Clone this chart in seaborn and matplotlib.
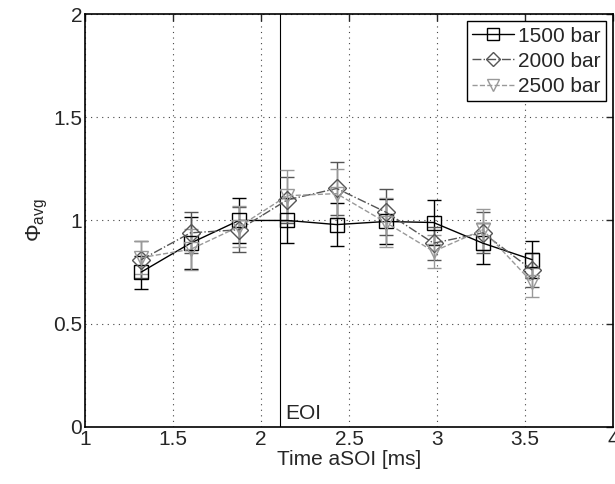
import numpy as np
import pandas as pd
import seaborn as sns
import matplotlib.pyplot as plt

# Data
time_ms = [1.32, 1.60, 1.875, 2.15, 2.43, 2.71, 2.98, 3.26, 3.54]
phi_1500 = [0.75, 0.89, 1.00, 1.00, 0.98, 0.995, 0.99, 0.89, 0.81]
err_1500 = [0.08, 0.125, 0.11, 0.11, 0.105, 0.11, 0.11, 0.10, 0.09]
phi_2000 = [0.81, 0.94, 0.955, 1.10, 1.155, 1.04, 0.89, 0.94, 0.76]
err_2000 = [0.09, 0.10, 0.11, 0.11, 0.13, 0.11, 0.08, 0.10, 0.08]
phi_2500 = [0.82, 0.86, 0.97, 1.12, 1.13, 0.99, 0.85, 0.955, 0.70]
err_2500 = [0.08, 0.10, 0.10, 0.125, 0.12, 0.12, 0.08, 0.10, 0.07]
eoi_time = 2.11

series = [
    ("1500 bar", phi_1500, err_1500, "black", "-", "s"),
    ("2000 bar", phi_2000, err_2000, "#555555", "-.", "D"),
    ("2500 bar", phi_2500, err_2500, "#999999", "--", "v"),
]

sns.set_style("white")
plt.rcParams["font.family"] = ["Liberation Sans", "DejaVu Sans"]
plt.rcParams["mathtext.fontset"] = "custom"
plt.rcParams["mathtext.rm"] = "Liberation Sans"
plt.rcParams["mathtext.it"] = "Liberation Sans:italic"

fig = plt.figure(figsize=(6.15, 4.84), dpi=100)
ax = fig.add_axes([0.138, 0.118, 0.859, 0.853])

for label, phi, err, color, ls, mk in series:
    ax.errorbar(time_ms, phi, yerr=err, fmt="none", ecolor=color,
                elinewidth=1.0, capsize=5, capthick=1.0, zorder=2)
    df = pd.DataFrame({"t": time_ms, "phi": phi})
    sns.lineplot(data=df, x="t", y="phi", ax=ax, color=color, linestyle=ls,
                 linewidth=1.0, marker=mk, markersize=10 if mk != "D" else 9,
                 markerfacecolor="none", markeredgecolor=color,
                 markeredgewidth=1.0, label=label, zorder=3)

ax.axvline(eoi_time, color="black", linewidth=0.8, zorder=1)
ax.text(eoi_time + 0.03, 0.04, "EOI", fontsize=15)

ax.set_xlim(1, 4)
ax.set_ylim(0, 2)
ax.set_xticks(np.arange(1, 4.01, 0.5))
ax.set_xticklabels(["1", "1.5", "2", "2.5", "3", "3.5", "4"])
ax.set_yticks([0, 0.5, 1, 1.5, 2])
ax.set_yticklabels(["0", "0.5", "1", "1.5", "2"])
ax.tick_params(direction="in", labelsize=15, top=True, right=True,
               length=5, width=1, pad=2)
ax.grid(True, linestyle=(0, (1, 4)), color="#444444", linewidth=0.8)
for sp in ax.spines.values():
    sp.set_color("black")
    sp.set_linewidth(1.2)

ax.set_xlabel("Time aSOI [ms]", fontsize=15, labelpad=1)
ax.set_ylabel(r"$\Phi_{\mathrm{avg}}$", fontsize=16, labelpad=2)

leg = ax.legend(loc="upper right", fontsize=15, frameon=True, fancybox=False,
                edgecolor="black", framealpha=1, handlelength=2.0,
                handletextpad=0.2, borderpad=0.25, labelspacing=0.3,
                borderaxespad=0.35, markerscale=0.8)
leg.get_frame().set_linewidth(1.0)

fig.savefig("out.png", dpi=100)
